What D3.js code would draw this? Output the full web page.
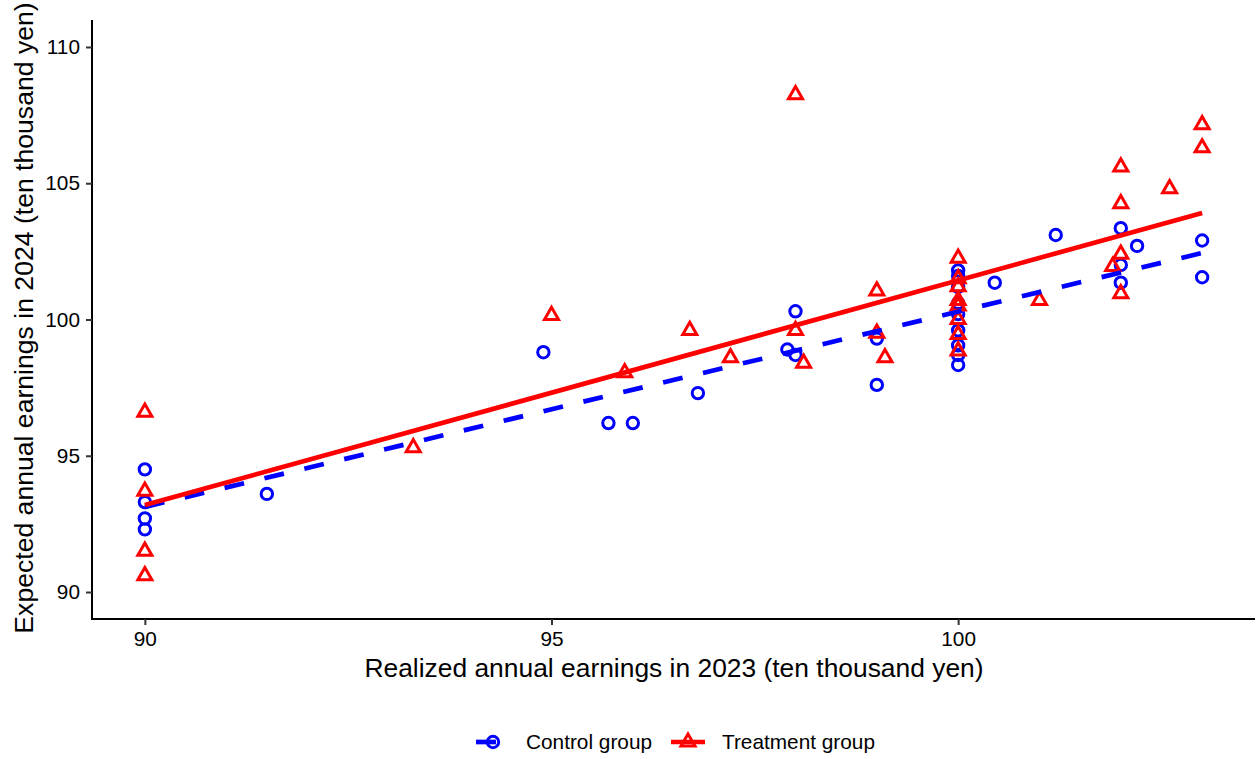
<!DOCTYPE html>
<html>
<head>
<meta charset="utf-8">
<script src="https://cdn.jsdelivr.net/npm/d3@7"></script>
<style>
  html, body { margin: 0; padding: 0; background: #fff; }
  svg { display: block; font-family: "Liberation Sans", Arial, Helvetica, sans-serif; }
</style>
</head>
<body>
<svg id="chart" width="1260" height="759"></svg>
<script>
// Realized 2023 earnings (x) vs expected 2024 earnings (y), ten thousand yen
const controlX = [90, 90, 90, 90, 91.5, 94.9, 95.7, 96.0, 96.8, 97.9, 98.0, 98.0, 99.0, 99.0,
  100, 100, 100, 100, 100, 100, 100, 100, 100, 100.45, 101.2, 102, 102, 102, 102.2, 103, 103];
const controlY = [94.5, 93.3, 92.7, 92.3, 93.6, 98.8, 96.2, 96.2, 97.3, 98.9, 100.3, 98.7, 99.3, 97.6,
  101.8, 101.6, 101.2, 100.6, 100.2, 99.6, 99.05, 98.7, 98.33, 101.35, 103.1, 103.35, 102.0, 101.35, 102.7, 102.9, 101.55];

const treatX = [90, 90, 90, 90, 93.3, 95.0, 95.9, 96.7, 97.2, 98.0, 98.0, 98.1, 99.0, 99.0, 99.1,
  100, 100, 100, 100, 100, 100, 100, 100, 101.0, 101.9, 102, 102, 102, 102, 102.6, 103, 103];
const treatY = [96.6, 93.7, 91.5, 90.6, 95.3, 100.15, 98.05, 99.6, 98.6, 108.25, 99.6, 98.4, 101.05, 99.5, 98.6,
  102.25, 101.5, 101.2, 100.7, 100.5, 100.0, 99.45, 98.85, 100.7, 101.95, 105.6, 104.25, 102.4, 100.95, 104.8, 107.15, 106.3];

// Linear fit lines (endpoints over the observed x range)
const fitX = [90, 103];
const controlFit = [93.12, 102.44];
const treatFit = [93.19, 103.91];

const xTicks = [90, 95, 100];
const yTicks = [90, 95, 100, 105, 110];
const groupNames = ["Control group", "Treatment group"];

const BLUE = "#0000FF", RED = "#FF0000";
const MARK_STROKE = 3;

const svg = d3.select("#chart");
const plot = { left: 92, right: 1255, top: 20, bottom: 619 };

const x = d3.scaleLinear().domain([89.35, 103.65]).range([plot.left, plot.right]);
const y = d3.scaleLinear().domain([89.01, 110.99]).range([plot.bottom, plot.top]);

// Axes
const xAxis = svg.append("g")
  .attr("transform", `translate(0,${plot.bottom})`)
  .call(d3.axisBottom(x).tickValues(xTicks).tickSize(6).tickPadding(6).tickSizeOuter(0));
const yAxis = svg.append("g")
  .attr("transform", `translate(${plot.left},0)`)
  .call(d3.axisLeft(y).tickValues(yTicks).tickSize(6).tickPadding(6).tickSizeOuter(0));

[xAxis, yAxis].forEach(g => {
  g.select(".domain").attr("stroke", "#000").attr("stroke-width", 2);
  g.selectAll(".tick line").attr("stroke", "#333").attr("stroke-width", 2);
  g.selectAll(".tick text").attr("fill", "#000").style("font-size", "20.8px")
    .style("font-family", '"Liberation Sans", Arial, sans-serif');
});
// extend the axis lines to meet at the corner
xAxis.select(".domain").attr("d", `M${plot.left - 1},0H${plot.right}`);
yAxis.select(".domain").attr("d", `M0,${plot.top}V${plot.bottom + 1}`);

// Axis titles
svg.append("text")
  .attr("x", 674).attr("y", 677)
  .attr("text-anchor", "middle").style("font-size", "26.4px").attr("fill", "#000")
  .text("Realized annual earnings in 2023 (ten thousand yen)");
svg.append("text")
  .attr("transform", `translate(33,318) rotate(-90)`)
  .attr("text-anchor", "middle").style("font-size", "26.6px").attr("fill", "#000")
  .text("Expected annual earnings in 2024 (ten thousand yen)");

// Marker shapes
const triPath = (s) => {
  const h = s * Math.sqrt(3) / 2;
  return `M0,${-2 * h / 3}L${s / 2},${h / 3}L${-s / 2},${h / 3}Z`;
};

function drawCircles(g, xs, ys, color) {
  g.selectAll(null).data(xs.map((v, i) => [v, ys[i]])).enter()
    .append("circle")
    .attr("cx", d => x(d[0])).attr("cy", d => y(d[1])).attr("r", 5.7)
    .attr("fill", "none").attr("stroke", color).attr("stroke-width", MARK_STROKE);
}
function drawTriangles(g, xs, ys, color) {
  g.selectAll(null).data(xs.map((v, i) => [v, ys[i]])).enter()
    .append("path")
    .attr("d", triPath(14))
    .attr("transform", d => `translate(${x(d[0])},${y(d[1])})`)
    .attr("fill", "none").attr("stroke", color).attr("stroke-width", MARK_STROKE)
    .attr("stroke-linejoin", "miter");
}

const pts = svg.append("g");
drawCircles(pts, controlX, controlY, BLUE);
drawTriangles(pts, treatX, treatY, RED);

// Fit lines
const line = d3.line().x(d => x(d[0])).y(d => y(d[1]));
svg.append("path")
  .datum(fitX.map((v, i) => [v, controlFit[i]]))
  .attr("d", line).attr("fill", "none").attr("stroke", BLUE)
  .attr("stroke-width", 4.7).attr("stroke-dasharray", "20,21");
svg.append("path")
  .datum(fitX.map((v, i) => [v, treatFit[i]]))
  .attr("d", line).attr("fill", "none").attr("stroke", RED)
  .attr("stroke-width", 4.7);

// Legend
const legend = svg.append("g").attr("transform", "translate(0,742)");
const keys = [
  { x0: 476, color: BLUE, dash: "20,21", shape: "circle", tx: 526 },
  { x0: 671, color: RED, dash: null, shape: "triangle", tx: 722 }
];
keys.forEach((k, i) => {
  legend.append("line")
    .attr("x1", k.x0).attr("x2", k.x0 + 34).attr("y1", 0).attr("y2", 0)
    .attr("stroke", k.color).attr("stroke-width", 4.7)
    .attr("stroke-dasharray", k.dash);
  if (k.shape === "circle") {
    legend.append("circle").attr("cx", k.x0 + 17).attr("cy", 0).attr("r", 5.7)
      .attr("fill", "none").attr("stroke", k.color).attr("stroke-width", MARK_STROKE);
  } else {
    legend.append("path").attr("d", triPath(14))
      .attr("transform", `translate(${k.x0 + 17},0)`)
      .attr("fill", "none").attr("stroke", k.color).attr("stroke-width", MARK_STROKE);
  }
  legend.append("text")
    .attr("x", k.tx).attr("y", 0).attr("dy", "0.35em")
    .style("font-size", "20.8px").attr("fill", "#000")
    .text(groupNames[i]);
});
</script>
</body>
</html>
